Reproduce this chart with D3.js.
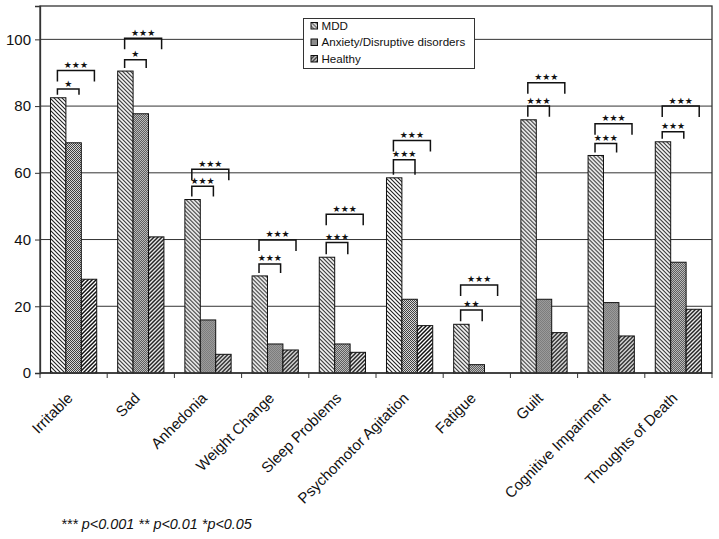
<!DOCTYPE html>
<html><head><meta charset="utf-8">
<script src="https://cdn.jsdelivr.net/npm/d3@7"></script>
<style>body{margin:0;background:#fff}svg{display:block;font-family:"Liberation Sans",Arial,Helvetica,sans-serif}</style>
</head><body><svg id="c" width="719" height="539"></svg>
<script>
const categories = ["Irritable","Sad","Anhedonia","Weight Change","Sleep Problems","Psychomotor Agitation","Fatigue","Guilt","Cognitive Impairment","Thoughts of Death"];
const seriesNames = ["MDD","Anxiety/Disruptive disorders","Healthy"];
const mddValues = [82.5, 90.5, 52.0, 29.1, 34.7, 58.5, 14.6, 75.9, 65.2, 69.3];
const anxValues = [69.0, 77.7, 15.9, 8.7, 8.7, 22.1, 2.5, 22.1, 21.1, 33.2];
const healthyValues = [28.1, 40.8, 5.6, 6.9, 6.2, 14.2, 0, 12.1, 11.1, 19.1];
const yTicks = [0, 20, 40, 60, 80, 100];
const sigMddVsAnx = ["*","*","***","***","***","***","**","***","***","***"];
const sigMddVsHealthy = ["***","***","***","***","***","***","***","***","***","***"];
const bracketAnxLevel = [85.1, 93.9, 56.0, 32.7, 39.1, 63.9, 18.9, 80.0, 68.8, 72.3];
const bracketHealthyLevel = [90.7, 100.3, 61.1, 39.9, 47.6, 69.7, 26.4, 87.0, 74.7, 80.0];
const footnote = "*** p<0.001 ** p<0.01 *p<0.05";

const svg = d3.select("#c");
const W = 719, H = 539;
const m = {left: 40, right: 7, top: 6, bottom: 166};
const x0 = d3.scaleBand().domain(categories).range([m.left, W - m.right]).padding(0);
const x1 = d3.scaleBand().domain(seriesNames).range([0, x0.bandwidth()]).paddingInner(0).paddingOuter(0.68);
const y = d3.scaleLinear().domain([0, 110]).range([H - m.bottom, m.top]);
const bw = x1.bandwidth();

// patterns
const defs = svg.append("defs");
const pM = defs.append("pattern").attr("id","pMDD").attr("patternUnits","userSpaceOnUse").attr("width",4).attr("height",4);
pM.append("rect").attr("width",4).attr("height",4).attr("fill","#fff");
pM.append("path").attr("d","M-1,-1 L5,5 M3,-1 L5,1 M-1,3 L1,5").attr("stroke","#222").attr("stroke-width",1.1);
const pA = defs.append("pattern").attr("id","pANX").attr("patternUnits","userSpaceOnUse").attr("width",2).attr("height",2);
pA.append("rect").attr("width",2).attr("height",2).attr("fill","#d8d8d8");
pA.append("rect").attr("width",1).attr("height",1).attr("fill","#404040");
pA.append("rect").attr("x",1).attr("y",1).attr("width",1).attr("height",1).attr("fill","#404040");
const pH = defs.append("pattern").attr("id","pHEA").attr("patternUnits","userSpaceOnUse").attr("width",4).attr("height",4);
pH.append("rect").attr("width",4).attr("height",4).attr("fill","#fff");
pH.append("path").attr("d","M-1,5 L5,-1 M-1,1 L1,-1 M3,5 L5,3").attr("stroke","#111").attr("stroke-width",1.5);
const fills = {"MDD":"url(#pMDD)","Anxiety/Disruptive disorders":"url(#pANX)","Healthy":"url(#pHEA)"};

svg.append("rect").attr("width",W).attr("height",H).attr("fill","#fff");

// gridlines
svg.append("g").selectAll("line").data(yTicks.filter(d => d > 0)).join("line")
  .attr("x1", m.left).attr("x2", W - m.right)
  .attr("y1", d => y(d)).attr("y2", d => y(d))
  .attr("stroke","#333").attr("stroke-width",1);

// frame
svg.append("rect").attr("x", m.left).attr("y", y(110)).attr("width", W - m.right - m.left).attr("height", y(0) - y(110))
  .attr("fill","none").attr("stroke","#333").attr("stroke-width",1.3);

// y axis
const yAxis = svg.append("g").attr("transform",`translate(${m.left},0)`)
  .call(d3.axisLeft(y).tickValues(yTicks).tickSize(5).tickPadding(4).tickFormat(d3.format("d")));
yAxis.select(".domain").attr("stroke","#333").attr("stroke-width",1.3);
yAxis.selectAll(".tick line").attr("stroke","#333");
yAxis.selectAll("text").attr("font-size",15).attr("fill","#111").attr("font-family",'"Liberation Sans",Arial,sans-serif');

// bars
const rows = categories.map((c, i) => ({cat: c, i, vals: [mddValues[i], anxValues[i], healthyValues[i]]}));
const groups = svg.append("g").selectAll("g").data(rows).join("g")
  .attr("transform", d => `translate(${x0(d.cat)},0)`);
groups.selectAll("rect").data(d => seriesNames.map((s, k) => ({s, v: d.vals[k]})).filter(e => e.v > 0)).join("rect")
  .attr("x", e => x1(e.s)).attr("width", bw)
  .attr("y", e => y(e.v)).attr("height", e => y(0) - y(e.v))
  .attr("fill", e => fills[e.s]).attr("stroke","#111").attr("stroke-width",1);

// x axis line & ticks at band boundaries
const xAxis = svg.append("g");
xAxis.append("line").attr("x1", m.left).attr("x2", W - m.right).attr("y1", y(0)).attr("y2", y(0))
  .attr("stroke","#333").attr("stroke-width",1.3);
const bounds = categories.map(c => x0(c)).concat([x0(categories[categories.length-1]) + x0.bandwidth()]);
xAxis.selectAll("line.tk").data(bounds).join("line").attr("class","tk")
  .attr("x1", d => d).attr("x2", d => d).attr("y1", y(0)).attr("y2", y(0) + 5)
  .attr("stroke","#333").attr("stroke-width",1);
xAxis.selectAll("text").data(categories).join("text")
  .attr("transform", d => `translate(${x0(d) + x0.bandwidth()/2},${y(0) + 26}) rotate(-45)`)
  .attr("text-anchor","end").attr("font-size",15).attr("fill","#111").text(d => d);

// significance brackets
const br = svg.append("g");
rows.forEach((d, i) => {
  const gx = x0(d.cat);
  const left = gx + x1("MDD") + 0.45 * bw;
  const rA = gx + x1("Anxiety/Disruptive disorders") + 0.85 * bw;
  const rH = gx + x1("Healthy") + 0.85 * bw;
  const yA = y(bracketAnxLevel[i]);
  const legA = Math.max(5, y(mddValues[i]) - 3 - yA);
  const yH = y(bracketHealthyLevel[i]);
  const legH = 11;
  br.append("path").attr("d", `M${left},${yA + legA} V${yA} H${rA} V${yA + legA}`)
    .attr("fill","none").attr("stroke","#111").attr("stroke-width",1.5);
  br.append("path").attr("d", `M${left},${yH + legH} V${yH} H${rH} V${yH + legH}`)
    .attr("fill","none").attr("stroke","#111").attr("stroke-width",1.5);
  br.append("text").attr("x", (left + rA) / 2).attr("y", yA - 2.5).attr("text-anchor","middle")
    .attr("font-family","DejaVu Sans").attr("font-size",9).attr("fill","#111")
    .text(sigMddVsAnx[i].replace(/\*/g, "★"));
  br.append("text").attr("x", (left + rH) / 2).attr("y", yH - 2.5).attr("text-anchor","middle")
    .attr("font-family","DejaVu Sans").attr("font-size",9).attr("fill","#111")
    .text(sigMddVsHealthy[i].replace(/\*/g, "★"));
});

// legend
const lg = svg.append("g").attr("transform","translate(303.5,18.5)");
lg.append("rect").attr("width",171).attr("height",50).attr("fill","#fff").attr("stroke","#333").attr("stroke-width",1);
seriesNames.forEach((s, k) => {
  const cy = 7 + k * 16.5;
  lg.append("rect").attr("x",7.5).attr("y",cy - 3).attr("width",6.5).attr("height",6.5)
    .attr("fill", fills[s]).attr("stroke","#111").attr("stroke-width",1);
  lg.append("text").attr("x",18).attr("y",cy + 4.3).attr("font-size",11.6).attr("fill","#111").text(s);
});

// footnote
svg.append("text").attr("x",61).attr("y",529).attr("font-size",14.4).attr("font-style","italic")
  .attr("fill","#111").text(footnote);
</script></body></html>
